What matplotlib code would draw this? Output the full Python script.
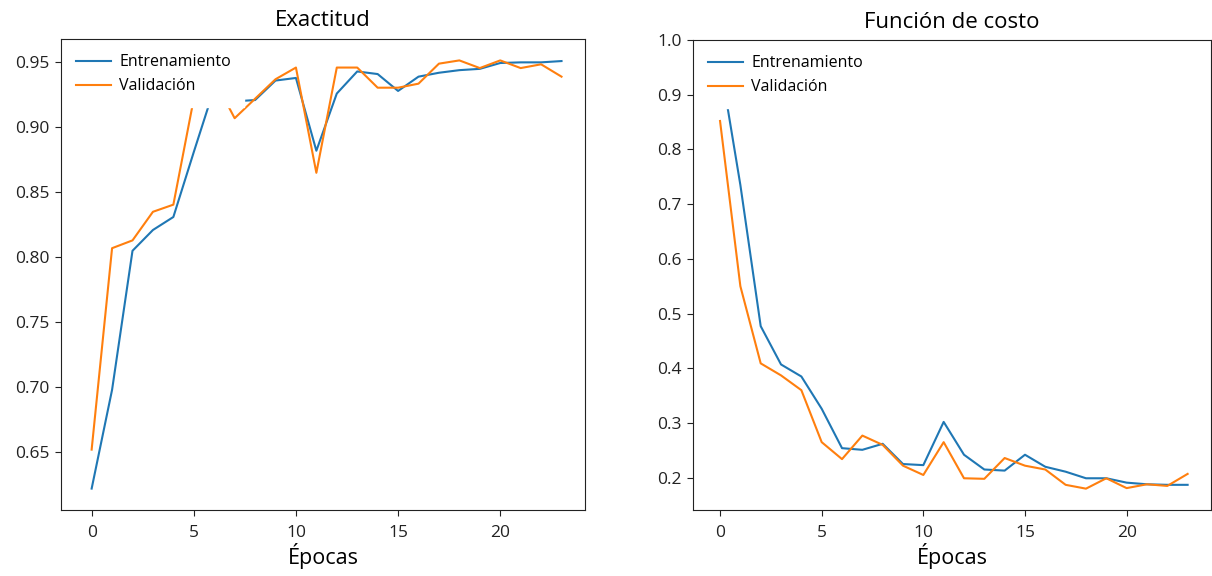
import numpy as np
import matplotlib
matplotlib.use("Agg")
import matplotlib.pyplot as plt

plt.rcParams['font.family'] = ['Open Sans', 'DejaVu Sans']

epocas = np.arange(24)

# Exactitud
acc_train = [0.622, 0.698, 0.805, 0.821, 0.831, 0.881, 0.930, 0.920, 0.921, 0.936,
             0.938, 0.882, 0.926, 0.943, 0.941, 0.928, 0.939, 0.942, 0.944, 0.945,
             0.9495, 0.950, 0.950, 0.951]
acc_val = [0.652, 0.807, 0.813, 0.835, 0.8405, 0.922, 0.937, 0.907, 0.922, 0.937,
           0.946, 0.865, 0.946, 0.946, 0.9305, 0.9305, 0.9336, 0.949, 0.9515, 0.9456,
           0.9515, 0.9456, 0.9485, 0.939]

# Funcion de costo
loss_train = [0.960, 0.735, 0.477, 0.407, 0.385, 0.326, 0.254, 0.251, 0.262, 0.225,
              0.223, 0.302, 0.242, 0.215, 0.213, 0.242, 0.220, 0.211, 0.199, 0.199,
              0.191, 0.188, 0.187, 0.187]
loss_val = [0.852, 0.550, 0.409, 0.387, 0.360, 0.265, 0.234, 0.277, 0.260, 0.222,
            0.205, 0.265, 0.199, 0.198, 0.236, 0.222, 0.215, 0.187, 0.180, 0.199,
            0.181, 0.188, 0.185, 0.207]

fig = plt.figure(figsize=(12.12, 5.76), dpi=100)
ax1 = fig.add_axes([61/1212, 66/576, 524/1212, 471/576])
ax2 = fig.add_axes([693/1212, 66/576, 518/1212, 470/576])

for ax, tr, va, titulo, xl in [(ax1, acc_train, acc_val, 'Exactitud', (-1.50, 24.15)),
                               (ax2, loss_train, loss_val, 'Función de costo', (-1.33, 24.15))]:
    ax.plot(epocas, tr, color='#1f77b4', lw=1.5, label='Entrenamiento')
    ax.plot(epocas, va, color='#ff7f0e', lw=1.5, label='Validación')
    ax.set_xlim(*xl)
    ax.set_xticks([0, 5, 10, 15, 20])
    ax.set_title(titulo, fontsize=16, pad=9)
    ax.set_xlabel('Épocas', fontsize=15.5, labelpad=2)
    ax.tick_params(labelsize=12.5, colors='#222222', length=4.5)
    ax.tick_params(axis='x', pad=6)
    for s in ax.spines.values():
        s.set_color('#222222')
    ax.legend(loc='upper left', fontsize=11.5, framealpha=1,
              edgecolor='white', fancybox=False, borderaxespad=0.15,
              borderpad=0.8, handlelength=2.2, handletextpad=0.5)

ax1.set_yticks([0.65, 0.70, 0.75, 0.80, 0.85, 0.90, 0.95])
ax1.set_yticklabels(['0.65', '0.70', '0.75', '0.80', '0.85', '0.90', '0.95'])
ax2.set_yticks([0.2, 0.3, 0.4, 0.5, 0.6, 0.7, 0.8, 0.9, 1.0])

fig.savefig('out.png', dpi=100)
